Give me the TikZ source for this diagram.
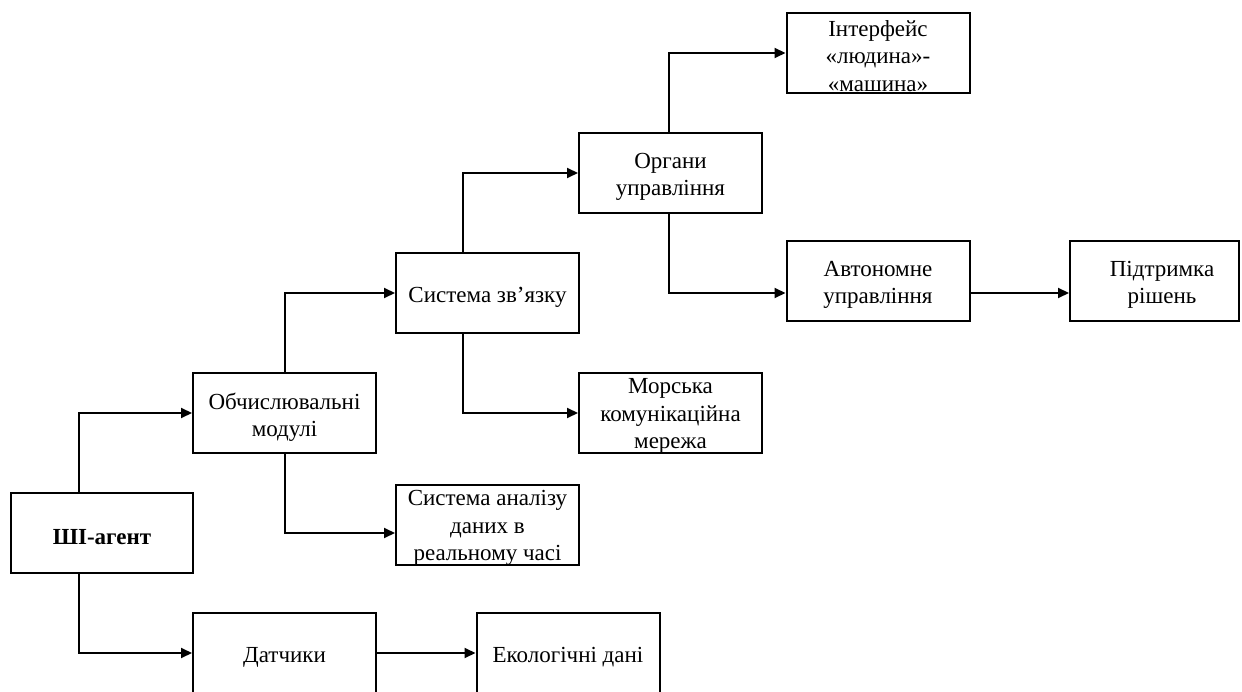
\documentclass[tikz,border=0pt]{standalone}
\usepackage{fontspec}
\setmainfont{Liberation Serif}
\usetikzlibrary{arrows.meta}
\begin{document}
\begin{tikzpicture}[x=1pt,y=-1pt,
  box/.style={draw,line width=2pt,minimum width=183pt,minimum height=80pt,inner sep=0pt},
  lbl/.style={inner sep=0pt,align=center,font=\fontsize{23}{27.5}\selectfont},
  conn/.style={line width=2pt,-{Triangle[length=11pt,width=10pt]}}]
\useasboundingbox (0,0) rectangle (1242,692);
\node[box,minimum width=182pt] (ai) at (102,533) {};
\node[box] (ob) at (284.5,413) {};
\node[box] (da) at (284.5,653) {};
\node[box] (ek) at (568,653) {};
\node[box] (an) at (487.5,525) {};
\node[box] (sz) at (487.5,293) {};
\node[box] (mo) at (670.5,413) {};
\node[box] (or) at (670.5,173) {};
\node[box] (in) at (878,53) {};
\node[box] (av) at (878,281) {};
\node[box,minimum width=169pt] (pd) at (1154.5,281) {};
% texts
\node[lbl,font=\fontsize{23}{27.5}\selectfont\bfseries] (ait) at ([yshift=-4pt]ai.center) {ШІ-агент};
\node[lbl] (obt) at ([yshift=-4pt]ob.center) {Обчислювальні\\модулі};
\node[lbl] (dat) at ([yshift=-4pt]da.center) {Датчики};
\node[lbl] (ekt) at ([yshift=-4pt]ek.center) {Екологічні дані};
\node[lbl] (ant) at ([yshift=-3pt]an.center) {Система аналізу\\даних в\\реальному часі};
\node[lbl] (szt) at ([yshift=-4pt]sz.center) {Система зв’язку};
\node[lbl] (mot) at ([yshift=-3pt]mo.center) {Морська\\комунікаційна\\мережа};
\node[lbl] (ort) at ([yshift=-4pt]or.center) {Органи\\управління};
\node[lbl] (int) at ([yshift=-3pt]in.center) {Інтерфейс\\«людина»-\\«машина»};
\node[lbl] (avt) at ([yshift=-4pt]av.center) {Автономне\\управління};
\node[lbl] (pdt) at ([xshift=7.5pt,yshift=-4pt]pd.center) {Підтримка\\рішень};
% connectors
\draw[conn] ([xshift=-23pt]ai.north) |- (ob.west);
\draw[conn] ([xshift=-23pt]ai.south) |- (da.west);
\draw[conn] (da.east) -- (ek.west);
\draw[conn] (ob.north) |- (sz.west);
\draw[conn] (ob.south) |- ([yshift=-8pt]an.west);
\draw[conn] ([xshift=-24.5pt]sz.north) |- (or.west);
\draw[conn] ([xshift=-24.5pt]sz.south) |- (mo.west);
\draw[conn] ([xshift=-1.5pt]or.north) |- (in.west);
\draw[conn] ([xshift=-1.5pt]or.south) |- ([yshift=-12pt]av.west);
\draw[conn] ([yshift=-12pt]av.east) -- ([yshift=-12pt]pd.west);
\end{tikzpicture}
\end{document}
